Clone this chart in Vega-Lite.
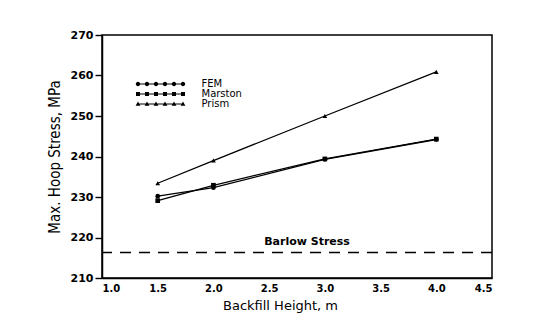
{
  "$schema": "https://vega.github.io/schema/vega-lite/v6.json",
  "autosize": {"type": "none"},
  "width": 390,
  "height": 243,
  "padding": {"left": 102, "top": 35, "right": 47, "bottom": 57},
  "background": "white",
  "config": {
    "view": {"stroke": "black", "strokeWidth": 1.5},
    "font": "DejaVu Sans"
  },
  "datasets": {
    "series": [
      {"method": "FEM", "height": 1.5, "stress": 230.2},
      {"method": "FEM", "height": 2.0, "stress": 232.3},
      {"method": "FEM", "height": 3.0, "stress": 239.3},
      {"method": "FEM", "height": 4.0, "stress": 244.2},
      {"method": "Marston", "height": 1.5, "stress": 229.1},
      {"method": "Marston", "height": 2.0, "stress": 232.9},
      {"method": "Marston", "height": 3.0, "stress": 239.4},
      {"method": "Marston", "height": 4.0, "stress": 244.3},
      {"method": "Prism", "height": 1.5, "stress": 233.4},
      {"method": "Prism", "height": 2.0, "stress": 239.0},
      {"method": "Prism", "height": 3.0, "stress": 250.0},
      {"method": "Prism", "height": 4.0, "stress": 260.9}
    ],
    "barlow": [
      {"label": "Barlow  Stress", "stress": 216.3}
    ]
  },
  "layer": [
    {
      "data": {"name": "barlow"},
      "mark": {"type": "rule", "stroke": "black", "strokeWidth": 1.3, "strokeDash": [11, 8]},
      "encoding": {
        "y": {
          "field": "stress", "type": "quantitative",
          "scale": {"domain": [210, 270], "nice": false, "zero": false},
          "axis": {
            "values": [210, 220, 230, 240, 250, 260, 270],
            "tickSize": 7,
            "tickColor": "black",
            "tickWidth": 1.4,
            "grid": false,
            "domainColor": "black",
            "domainWidth": 1.5,
            "labelFont": "DejaVu Sans",
            "labelFontSize": 11,
            "labelFontWeight": "bold",
            "labelColor": "black",
            "labelPadding": 2,
            "title": "Max. Hoop Stress, MPa",
            "titleFont": "DejaVu Sans Condensed, Roboto Condensed, Liberation Sans Narrow, DejaVu Sans",
            "titleFontSize": 15,
            "titleFontWeight": "normal",
            "titleColor": "black",
            "titlePadding": 8
          }
        }
      }
    },
    {
      "data": {"name": "barlow"},
      "mark": {"type": "text", "font": "DejaVu Sans", "fontSize": 11, "fontWeight": "bold", "dy": -10, "color": "black"},
      "encoding": {
        "x": {"datum": 2.84, "type": "quantitative"},
        "y": {"field": "stress", "type": "quantitative"},
        "text": {"field": "label"}
      }
    },
    {
      "data": {"name": "series"},
      "mark": {"type": "line", "stroke": "black", "strokeWidth": 1.3},
      "encoding": {
        "x": {
          "field": "height", "type": "quantitative",
          "scale": {"domain": [1, 4.5], "nice": false, "zero": false},
          "axis": {
            "values": [1, 1.5, 2, 2.5, 3, 3.5, 4, 4.5],
            "format": ".1f",
            "ticks": false,
            "grid": false,
            "domainColor": "black",
            "domainWidth": 1.5,
            "labelFont": "DejaVu Sans",
            "labelFontSize": 10,
            "labelFontWeight": "bold",
            "labelColor": "black",
            "labelPadding": 5,
            "labelOverlap": false,
            "title": "Backfill  Height,  m",
            "titleFont": "DejaVu Sans",
            "titleFontSize": 13,
            "titleFontWeight": "normal",
            "titleColor": "black",
            "titleX": 178,
            "titlePadding": 6
          }
        },
        "y": {"field": "stress", "type": "quantitative"},
        "detail": {"field": "method"}
      }
    },
    {
      "data": {"name": "series"},
      "transform": [{"filter": "datum.method === 'FEM'"}],
      "mark": {"type": "point", "shape": "circle", "filled": true, "color": "black", "size": 22, "opacity": 1},
      "encoding": {
        "x": {"field": "height", "type": "quantitative"},
        "y": {"field": "stress", "type": "quantitative"}
      }
    },
    {
      "data": {"name": "series"},
      "transform": [{"filter": "datum.method === 'Marston'"}],
      "mark": {"type": "point", "shape": "square", "filled": true, "color": "black", "size": 22, "opacity": 1},
      "encoding": {
        "x": {"field": "height", "type": "quantitative"},
        "y": {"field": "stress", "type": "quantitative"}
      }
    },
    {
      "data": {"name": "series"},
      "transform": [{"filter": "datum.method === 'Prism'"}],
      "mark": {"type": "point", "shape": "triangle-up", "filled": true, "color": "black", "size": 22, "opacity": 1},
      "encoding": {
        "x": {"field": "height", "type": "quantitative"},
        "y": {"field": "stress", "type": "quantitative"}
      }
    },
    {
      "data": {"name": "series"},
      "mark": {"type": "point", "filled": true, "color": "black", "size": 16, "opacity": 0},
      "encoding": {
        "x": {"field": "height", "type": "quantitative"},
        "y": {"field": "stress", "type": "quantitative"},
        "shape": {
          "field": "method", "type": "nominal",
          "scale": {
            "domain": ["FEM", "Marston", "Prism"],
            "range": [
              "M-11.25,-0.3v0.6h22.5v-0.6zM-12.35,0a1.1,1.1 0 1,0 2.2,0a1.1,1.1 0 1,0 -2.2,0M-7.85,0a1.1,1.1 0 1,0 2.2,0a1.1,1.1 0 1,0 -2.2,0M-3.35,0a1.1,1.1 0 1,0 2.2,0a1.1,1.1 0 1,0 -2.2,0M1.15,0a1.1,1.1 0 1,0 2.2,0a1.1,1.1 0 1,0 -2.2,0M5.65,0a1.1,1.1 0 1,0 2.2,0a1.1,1.1 0 1,0 -2.2,0M10.15,0a1.1,1.1 0 1,0 2.2,0a1.1,1.1 0 1,0 -2.2,0",
              "M-11.25,-0.3v0.6h22.5v-0.6zM-12.25,-1v2h2v-2zM-7.75,-1v2h2v-2zM-3.25,-1v2h2v-2zM1.25,-1v2h2v-2zM5.75,-1v2h2v-2zM10.25,-1v2h2v-2z",
              "M-11.25,-0.3v0.6h22.5v-0.6zM-11.25,-1.2l-1.2,2.1h2.4zM-6.75,-1.2l-1.2,2.1h2.4zM-2.25,-1.2l-1.2,2.1h2.4zM2.25,-1.2l-1.2,2.1h2.4zM6.75,-1.2l-1.2,2.1h2.4zM11.25,-1.2l-1.2,2.1h2.4z"
            ]
          },
          "legend": {
            "orient": "none",
            "legendX": 53.5,
            "legendY": 44,
            "title": null,
            "padding": 0,
            "rowPadding": 0,
            "symbolSize": 16,
            "symbolOpacity": 1,
            "symbolFillColor": "black",
            "symbolStrokeColor": "black",
            "symbolStrokeWidth": 0.5,
            "labelOffset": 36,
            "labelFont": "DejaVu Sans",
            "labelFontSize": 10,
            "labelColor": "black"
          }
        }
      }
    }
  ]
}
